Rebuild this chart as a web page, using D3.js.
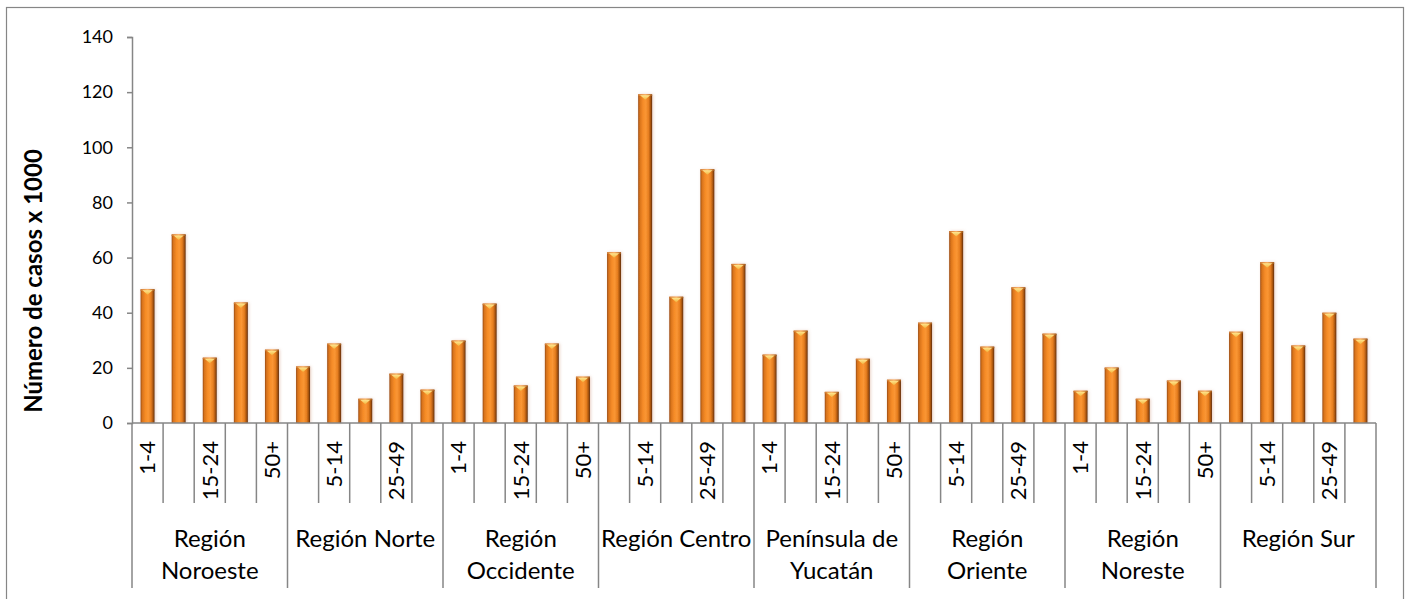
<!DOCTYPE html>
<html>
<head>
<meta charset="utf-8">
<script src="https://cdn.jsdelivr.net/npm/d3@7"></script>
<style>
  html, body { margin: 0; padding: 0; background: #fff; }
  svg { display: block; }
  text { font-family: Lato, "Open Sans", sans-serif; fill: #000; }
</style>
</head>
<body>
<svg id="chart" width="1408" height="599"></svg>
<script>
// Age groups and regions
const gruposEdad = ["1-4", "5-14", "15-24", "25-49", "50+"];
const regiones = ["Región Noroeste", "Región Norte", "Región Occidente", "Región Centro",
                  "Península de Yucatán", "Región Oriente", "Región Noreste", "Región Sur"];
const regionLineas = [["Región", "Noroeste"], ["Región Norte"], ["Región", "Occidente"], ["Región Centro"],
                      ["Península de", "Yucatán"], ["Región", "Oriente"], ["Región", "Noreste"], ["Región Sur"]];

// Cases (x 1000) per age group, one array per region
const noroeste  = [48.5, 68.4, 23.7, 43.7, 26.6];
const norte     = [20.5, 28.8, 8.8, 17.9, 12.1];
const occidente = [29.9, 43.3, 13.6, 28.8, 16.8];
const centro    = [61.9, 119.2, 45.8, 92.0, 57.7];
const yucatan   = [24.8, 33.5, 11.3, 23.3, 15.7];
const oriente   = [36.4, 69.6, 27.7, 49.2, 32.4];
const noreste   = [11.7, 20.1, 8.8, 15.4, 11.7];
const sur       = [33.1, 58.3, 28.1, 40.0, 30.6];
const casosPorRegion = [noroeste, norte, occidente, centro, yucatan, oriente, noreste, sur];

const yTicks = [0, 20, 40, 60, 80, 100, 120, 140];
const tituloY = "Número de casos x 1000";

// Flat table built from the arrays above
const datos = [];
regiones.forEach((r, ri) => {
  gruposEdad.forEach((g, gi) => {
    datos.push({ key: ri + "|" + gi, region: r, ri, grupo: g, gi, valor: casosPorRegion[ri][gi] });
  });
});

const svg = d3.select("#chart");
const W = 1408, H = 599;
const plot = { left: 132, right: 1376, top: 37, bottom: 423 };
const catTickBottom = 503, groupTickBottom = 588;
const axisColor = "#868686";

// Outer chart border
svg.append("rect")
  .attr("x", 6.5).attr("y", 7.5)
  .attr("width", 1397).attr("height", 600)
  .attr("fill", "none").attr("stroke", axisColor).attr("stroke-width", 1.2);

const x = d3.scaleBand().domain(datos.map(d => d.key)).range([plot.left, plot.right]).padding(0);
const y = d3.scaleLinear().domain([0, 140]).range([plot.bottom, plot.top]);

// Gradients and effects for the bars
const defs = svg.append("defs");
const grad = defs.append("linearGradient").attr("id", "barGrad")
  .attr("x1", "0%").attr("x2", "100%").attr("y1", "0%").attr("y2", "0%");
[["0%", "#9a4c10"], ["12%", "#d8731c"], ["35%", "#f68c27"], ["55%", "#fa9634"],
 ["75%", "#e57d1f"], ["90%", "#a4520e"], ["100%", "#5c2c06"]]
  .forEach(([o, c]) => grad.append("stop").attr("offset", o).attr("stop-color", c));

const capGrad = defs.append("linearGradient").attr("id", "capGrad")
  .attr("x1", "0%").attr("x2", "0%").attr("y1", "0%").attr("y2", "100%");
[["0%", "#ffe690"], ["100%", "#f2b43c"]]
  .forEach(([o, c]) => capGrad.append("stop").attr("offset", o).attr("stop-color", c));

const rimGrad = defs.append("linearGradient").attr("id", "rimGrad")
  .attr("x1", "0%").attr("x2", "100%").attr("y1", "0%").attr("y2", "0%");
[["0%", "#d07a30"], ["50%", "#f9b060"], ["100%", "#a45a18"]]
  .forEach(([o, c]) => rimGrad.append("stop").attr("offset", o).attr("stop-color", c));

const glow = defs.append("filter").attr("id", "barShadow")
  .attr("x", "-50%").attr("y", "-10%").attr("width", "200%").attr("height", "120%");
glow.append("feDropShadow").attr("dx", 1).attr("dy", 0).attr("stdDeviation", 1.6)
  .attr("flood-color", "#c27a52").attr("flood-opacity", 0.35);

// Y axis
const yAxis = d3.axisLeft(y).tickValues(yTicks).tickSize(5).tickPadding(14).tickFormat(d3.format("d"));
const gy = svg.append("g").attr("transform", `translate(${plot.left},0)`).call(yAxis);
gy.select(".domain").attr("stroke", axisColor).attr("stroke-width", 1.5);
gy.selectAll(".tick line").attr("stroke", axisColor).attr("stroke-width", 1.5);
gy.selectAll(".tick text").attr("font-size", 18).attr("font-family", "Lato").attr("fill", "#000");

// Y axis title
svg.append("text")
  .attr("transform", "translate(42,281) rotate(-90)")
  .attr("text-anchor", "middle")
  .attr("font-size", 24).attr("font-weight", "bold")
  .text(tituloY);

// Bars
const bw = x.bandwidth() * 0.45;
const barras = svg.append("g").selectAll("g.bar").data(datos).join("g").attr("class", "bar");
barras.append("rect")
  .attr("x", d => x(d.key) + (x.bandwidth() - bw) / 2)
  .attr("y", d => y(d.valor))
  .attr("width", bw)
  .attr("height", d => y(0) - y(d.valor))
  .attr("fill", "url(#barGrad)")
  .attr("filter", "url(#barShadow)");
// top rim
barras.append("rect")
  .attr("x", d => x(d.key) + (x.bandwidth() - bw) / 2)
  .attr("y", d => y(d.valor))
  .attr("width", bw)
  .attr("height", 1.6)
  .attr("fill", "url(#rimGrad)");
// bevel triangle on top
barras.append("path")
  .attr("d", d => {
    const cx = x(d.key) + x.bandwidth() / 2;
    const top = y(d.valor) + 1;
    const hw = bw * 0.36;
    return `M${cx - hw},${top} L${cx + hw},${top} L${cx},${top + 4.5} Z`;
  })
  .attr("fill", "url(#capGrad)");

// X axis line
svg.append("line")
  .attr("x1", plot.left).attr("x2", plot.right)
  .attr("y1", plot.bottom).attr("y2", plot.bottom)
  .attr("stroke", axisColor).attr("stroke-width", 1.5);
// left axis extended through the label rows
svg.append("line")
  .attr("x1", plot.left).attr("x2", plot.left)
  .attr("y1", plot.bottom).attr("y2", groupTickBottom)
  .attr("stroke", axisColor).attr("stroke-width", 1.5);

// Category and group dividers
const bordes = d3.range(1, datos.length + 1);
svg.append("g").selectAll("line").data(bordes).join("line")
  .attr("x1", i => i < datos.length ? x(datos[i].key) : plot.right)
  .attr("x2", i => i < datos.length ? x(datos[i].key) : plot.right)
  .attr("y1", plot.bottom)
  .attr("y2", i => i % gruposEdad.length === 0 ? groupTickBottom : catTickBottom)
  .attr("stroke", axisColor).attr("stroke-width", 1.5);

// Age-group labels (every other category)
svg.append("g").selectAll("text").data(datos.filter((d, i) => i % 2 === 0)).join("text")
  .attr("transform", d => `translate(${x(d.key) + x.bandwidth() / 2},441) rotate(-90)`)
  .attr("text-anchor", "end")
  .attr("dy", "0.36em")
  .attr("font-size", 22)
  .text(d => d.grupo);

// Region labels
const bandaRegion = x.bandwidth() * gruposEdad.length;
const gReg = svg.append("g").selectAll("text").data(regiones).join("text")
  .attr("x", (r, i) => x(i + "|0") + bandaRegion / 2)
  .attr("y", 547)
  .attr("text-anchor", "middle")
  .attr("font-size", 24);
gReg.each(function (r, i) {
  d3.select(this).selectAll("tspan").data(regionLineas[i]).join("tspan")
    .attr("x", x(i + "|0") + bandaRegion / 2)
    .attr("dy", (t, j) => j === 0 ? 0 : 31.5)
    .text(t => t);
});
</script>
</body>
</html>
